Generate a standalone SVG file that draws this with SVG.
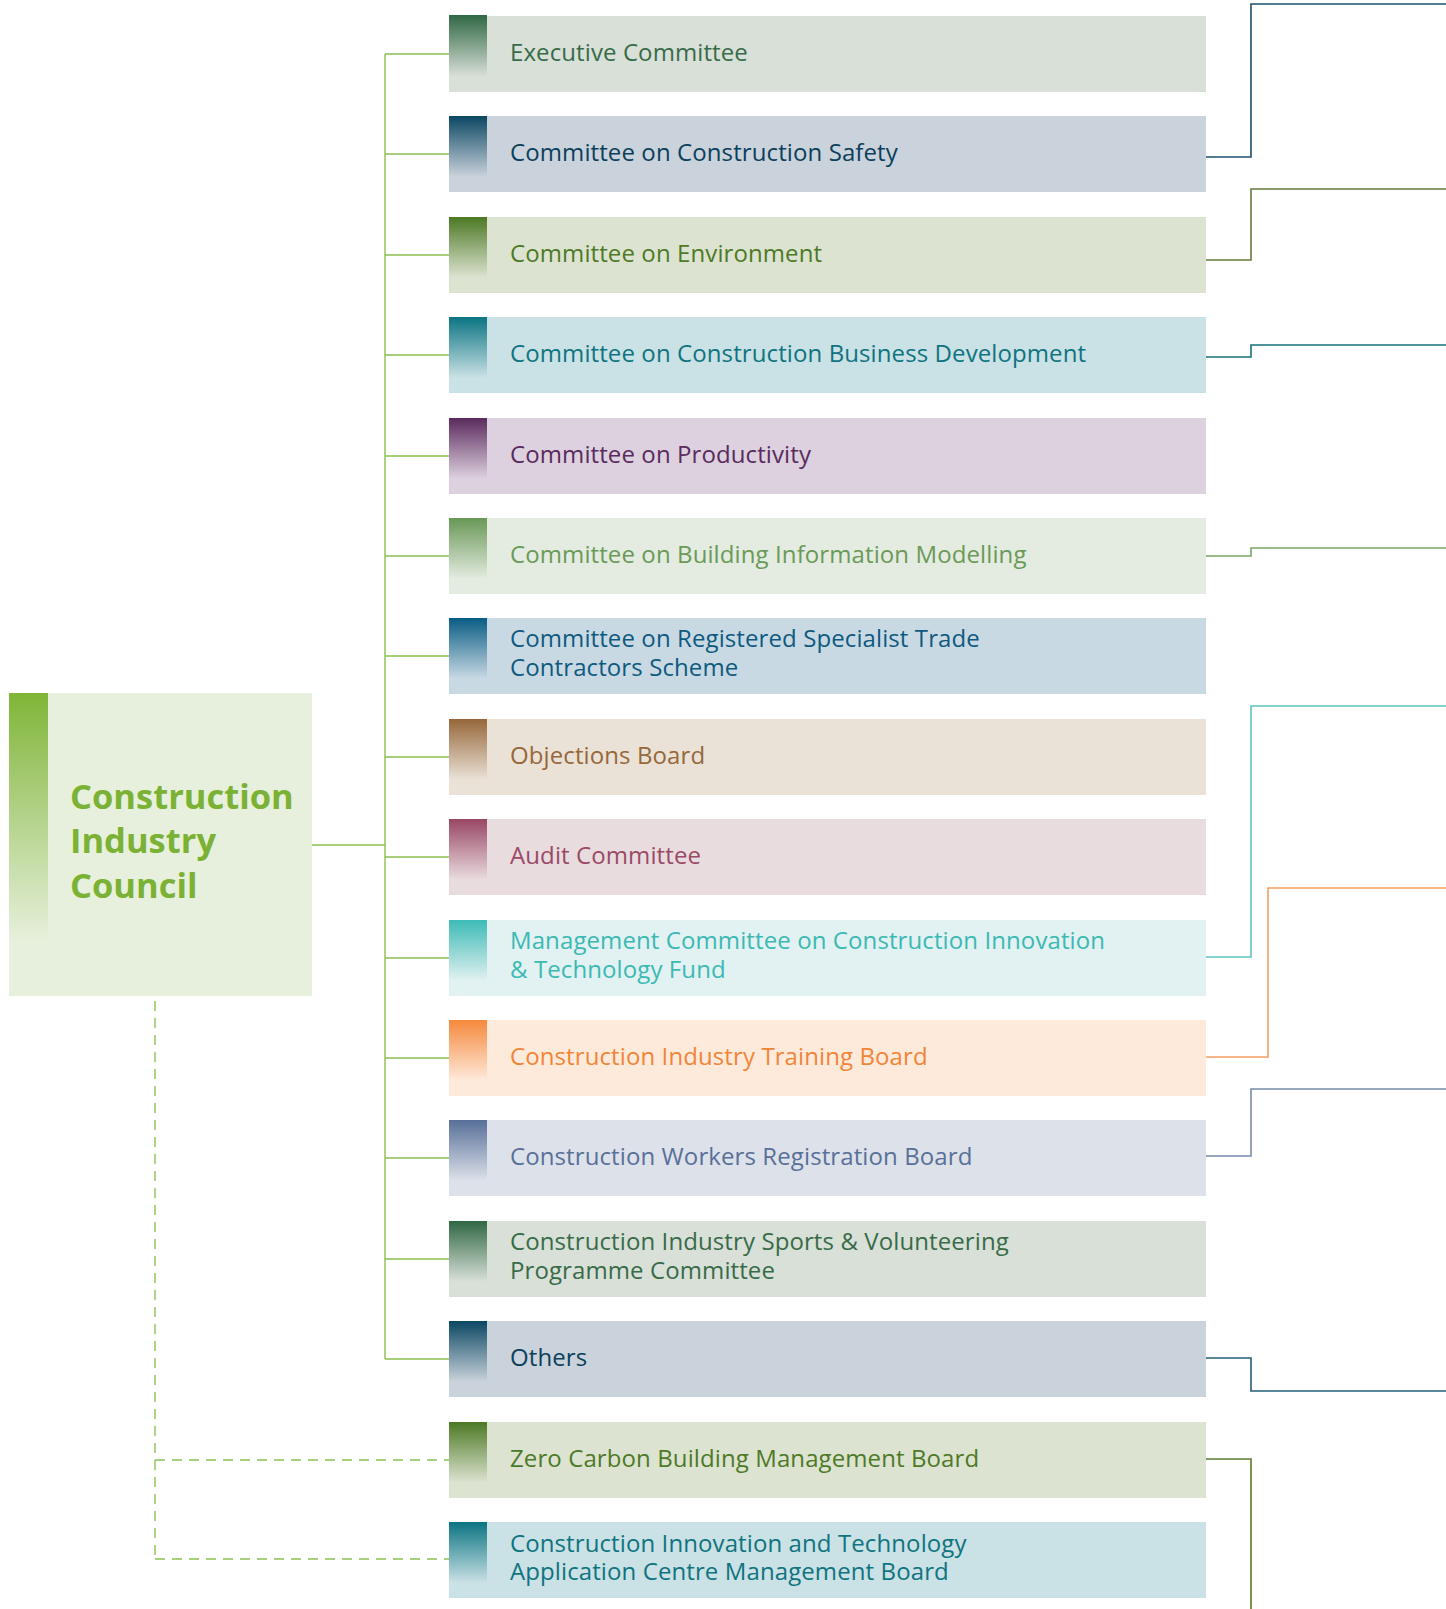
<svg xmlns="http://www.w3.org/2000/svg" width="1446" height="1609" viewBox="0 0 1446 1609">
<defs>
<linearGradient id="g-council" x1="0" y1="0" x2="0" y2="1"><stop offset="0" stop-color="#80b538"/><stop offset="0.82" stop-color="#e7f0dc"/><stop offset="1" stop-color="#e7f0dc"/></linearGradient>
<linearGradient id="g-exec" x1="0" y1="0" x2="0" y2="1"><stop offset="0" stop-color="#2f6744"/><stop offset="0.8" stop-color="#d9e0d8"/><stop offset="1" stop-color="#d9e0d8"/></linearGradient>
<linearGradient id="g-navy" x1="0" y1="0" x2="0" y2="1"><stop offset="0" stop-color="#0b4762"/><stop offset="0.8" stop-color="#cad2db"/><stop offset="1" stop-color="#cad2db"/></linearGradient>
<linearGradient id="g-olive" x1="0" y1="0" x2="0" y2="1"><stop offset="0" stop-color="#4c7924"/><stop offset="0.8" stop-color="#dde3d1"/><stop offset="1" stop-color="#dde3d1"/></linearGradient>
<linearGradient id="g-teal" x1="0" y1="0" x2="0" y2="1"><stop offset="0" stop-color="#0b7482"/><stop offset="0.8" stop-color="#cae1e5"/><stop offset="1" stop-color="#cae1e5"/></linearGradient>
<linearGradient id="g-purple" x1="0" y1="0" x2="0" y2="1"><stop offset="0" stop-color="#5a2a5d"/><stop offset="0.8" stop-color="#ddd1df"/><stop offset="1" stop-color="#ddd1df"/></linearGradient>
<linearGradient id="g-bim" x1="0" y1="0" x2="0" y2="1"><stop offset="0" stop-color="#689856"/><stop offset="0.8" stop-color="#e4ebe0"/><stop offset="1" stop-color="#e4ebe0"/></linearGradient>
<linearGradient id="g-blue" x1="0" y1="0" x2="0" y2="1"><stop offset="0" stop-color="#095c84"/><stop offset="0.8" stop-color="#c9d9e4"/><stop offset="1" stop-color="#c9d9e4"/></linearGradient>
<linearGradient id="g-brown" x1="0" y1="0" x2="0" y2="1"><stop offset="0" stop-color="#96673a"/><stop offset="0.8" stop-color="#eae2d7"/><stop offset="1" stop-color="#eae2d7"/></linearGradient>
<linearGradient id="g-rose" x1="0" y1="0" x2="0" y2="1"><stop offset="0" stop-color="#984664"/><stop offset="0.8" stop-color="#e9dcdf"/><stop offset="1" stop-color="#e9dcdf"/></linearGradient>
<linearGradient id="g-aqua" x1="0" y1="0" x2="0" y2="1"><stop offset="0" stop-color="#3dbbb6"/><stop offset="0.8" stop-color="#e2f1f1"/><stop offset="1" stop-color="#e2f1f1"/></linearGradient>
<linearGradient id="g-orange" x1="0" y1="0" x2="0" y2="1"><stop offset="0" stop-color="#f5893c"/><stop offset="0.8" stop-color="#feeadb"/><stop offset="1" stop-color="#feeadb"/></linearGradient>
<linearGradient id="g-slate" x1="0" y1="0" x2="0" y2="1"><stop offset="0" stop-color="#576f98"/><stop offset="0.8" stop-color="#dde1e9"/><stop offset="1" stop-color="#dde1e9"/></linearGradient>
</defs>
<style>
text{font-family:"Open Sans","Noto Sans","DejaVu Sans",sans-serif;font-size:24px;letter-spacing:0.1px}
.council{font-size:34.5px;font-weight:700;fill:#7bb235;letter-spacing:0}
.tree{stroke:#8cbf4e;stroke-width:1.4;fill:none}
.dash{stroke:#8cc152;stroke-width:1.4;fill:none;stroke-dasharray:10 7}
.rc{fill:none;stroke-width:1.6}
.exec .bg{fill:#d9e0d8}.exec text{fill:#386b48}
.navy .bg{fill:#cad2db}.navy text{fill:#0c3f5c}
.olive .bg{fill:#dde3d1}.olive text{fill:#4d7a26}
.teal .bg{fill:#cae1e5}.teal text{fill:#0f7480}
.purple .bg{fill:#ddd1df}.purple text{fill:#5a2b5d}
.bim .bg{fill:#e4ebe0}.bim text{fill:#6a9a58}
.blue .bg{fill:#c9d9e4}.blue text{fill:#0e5a7f}
.brown .bg{fill:#eae2d7}.brown text{fill:#97683a}
.rose .bg{fill:#e9dcdf}.rose text{fill:#9a4a66}
.aqua .bg{fill:#e2f1f1}.aqua text{fill:#3bb9b4}
.orange .bg{fill:#feeadb}.orange text{fill:#f08538}
.slate .bg{fill:#dde1e9}.slate text{fill:#58709a}
</style>
<rect width="1446" height="1609" fill="#ffffff"/>

<g id="connectors">
<path class="tree" d="M312 845H385M385 54V1359M385 54H449M385 154H449M385 255H449M385 355H449M385 456H449M385 556H449M385 656H449M385 757H449M385 857H449M385 958H449M385 1058H449M385 1158H449M385 1259H449M385 1359H449"/>
<path class="dash" d="M155 1001V1559M155 1460H449M155 1559H449"/>
<path class="rc" stroke="#1b4f6c" d="M1206 157H1251V4H1446"/>
<path class="rc" stroke="#66793a" d="M1206 260H1251V189H1446"/>
<path class="rc" stroke="#16717d" d="M1206 357H1251V345H1446"/>
<path class="rc" stroke="#7ba565" d="M1206 556H1251V548H1446"/>
<path class="rc" stroke="#5cc4bf" d="M1206 957H1251V706H1446"/>
<path class="rc" stroke="#f59f62" d="M1206 1057H1268V888H1446"/>
<path class="rc" stroke="#758ca8" d="M1206 1156H1251V1089H1446"/>
<path class="rc" stroke="#265d78" d="M1206 1358H1251V1391H1446"/>
<path class="rc" stroke="#5a7b2c" d="M1206 1459H1251V1609"/>
</g>

<g id="council">
<rect x="9" y="693" width="303" height="303" fill="#e7f0dc"/>
<rect x="9" y="693" width="39" height="303" fill="url(#g-council)"/>
<text class="council" x="70" y="809">Construction</text>
<text class="council" x="70" y="853">Industry</text>
<text class="council" x="70" y="898">Council</text>
</g>

<g id="executive-committee" class="exec">
<rect class="bg" x="449" y="16" width="757" height="76"/>
<rect x="449" y="15" width="38" height="77" fill="url(#g-exec)"/>
<text x="510" y="61">Executive Committee</text>
</g>
<g id="construction-safety" class="navy">
<rect class="bg" x="449" y="116" width="757" height="76"/>
<rect x="449" y="116" width="38" height="76" fill="url(#g-navy)"/>
<text x="510" y="161">Committee on Construction Safety</text>
</g>
<g id="environment" class="olive">
<rect class="bg" x="449" y="217" width="757" height="76"/>
<rect x="449" y="217" width="38" height="76" fill="url(#g-olive)"/>
<text x="510" y="262">Committee on Environment</text>
</g>
<g id="business-development" class="teal">
<rect class="bg" x="449" y="317" width="757" height="76"/>
<rect x="449" y="317" width="38" height="76" fill="url(#g-teal)"/>
<text x="510" y="362">Committee on Construction Business Development</text>
</g>
<g id="productivity" class="purple">
<rect class="bg" x="449" y="418" width="757" height="76"/>
<rect x="449" y="418" width="38" height="76" fill="url(#g-purple)"/>
<text x="510" y="463">Committee on Productivity</text>
</g>
<g id="bim" class="bim">
<rect class="bg" x="449" y="518" width="757" height="76"/>
<rect x="449" y="518" width="38" height="76" fill="url(#g-bim)"/>
<text x="510" y="563">Committee on Building Information Modelling</text>
</g>
<g id="rstcs" class="blue">
<rect class="bg" x="449" y="618" width="757" height="76"/>
<rect x="449" y="618" width="38" height="76" fill="url(#g-blue)"/>
<text x="510" y="647">Committee on Registered Specialist Trade</text>
<text x="510" y="675.5">Contractors Scheme</text>
</g>
<g id="objections-board" class="brown">
<rect class="bg" x="449" y="719" width="757" height="76"/>
<rect x="449" y="719" width="38" height="76" fill="url(#g-brown)"/>
<text x="510" y="764">Objections Board</text>
</g>
<g id="audit-committee" class="rose">
<rect class="bg" x="449" y="819" width="757" height="76"/>
<rect x="449" y="819" width="38" height="76" fill="url(#g-rose)"/>
<text x="510" y="864">Audit Committee</text>
</g>
<g id="citf" class="aqua">
<rect class="bg" x="449" y="920" width="757" height="76"/>
<rect x="449" y="920" width="38" height="76" fill="url(#g-aqua)"/>
<text x="510" y="949">Management Committee on Construction Innovation</text>
<text x="510" y="977.5">&amp; Technology Fund</text>
</g>
<g id="citb" class="orange">
<rect class="bg" x="449" y="1020" width="757" height="76"/>
<rect x="449" y="1020" width="38" height="76" fill="url(#g-orange)"/>
<text x="510" y="1065">Construction Industry Training Board</text>
</g>
<g id="cwrb" class="slate">
<rect class="bg" x="449" y="1120" width="757" height="76"/>
<rect x="449" y="1120" width="38" height="76" fill="url(#g-slate)"/>
<text x="510" y="1165">Construction Workers Registration Board</text>
</g>
<g id="sports-volunteering" class="exec">
<rect class="bg" x="449" y="1221" width="757" height="76"/>
<rect x="449" y="1221" width="38" height="76" fill="url(#g-exec)"/>
<text x="510" y="1250">Construction Industry Sports &amp; Volunteering</text>
<text x="510" y="1278.5">Programme Committee</text>
</g>
<g id="others" class="navy">
<rect class="bg" x="449" y="1321" width="757" height="76"/>
<rect x="449" y="1321" width="38" height="76" fill="url(#g-navy)"/>
<text x="510" y="1366">Others</text>
</g>
<g id="zero-carbon" class="olive">
<rect class="bg" x="449" y="1422" width="757" height="76"/>
<rect x="449" y="1422" width="38" height="76" fill="url(#g-olive)"/>
<text x="510" y="1467">Zero Carbon Building Management Board</text>
</g>
<g id="citac" class="teal">
<rect class="bg" x="449" y="1522" width="757" height="76"/>
<rect x="449" y="1522" width="38" height="76" fill="url(#g-teal)"/>
<text x="510" y="1551.5">Construction Innovation and Technology</text>
<text x="510" y="1580">Application Centre Management Board</text>
</g>
</svg>
